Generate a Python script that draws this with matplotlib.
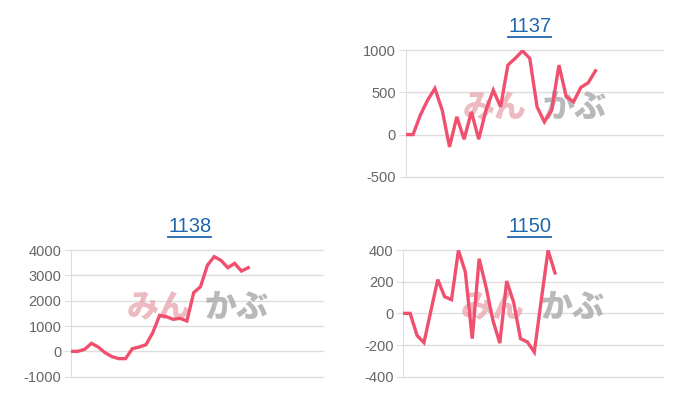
import matplotlib.pyplot as plt
from matplotlib.lines import Line2D

# values
titles = ["1137", "1138", "1150"]
v1137 = [0, 0, 230, 408, 546, 289, -146, 210, -55, 269, -55, 289, 526, 328,
         822, 902, 992, 902, 328, 150, 289, 822, 447, 388, 558, 613, 755]
v1138 = [0, 0, 79, 316, 170, -53, -209, -288, -288, 105, 170, 263, 737, 1421,
         1368, 1263, 1303, 1197, 2316, 2553, 3394, 3737, 3592, 3302, 3473, 3170, 3302]
v1150 = [0, 0, -140, -185, 15, 213, 105, 86, 398, 261, -160, 345, 166, -44,
         -188, 204, 71, -160, -181, -245, 80, 398, 255]
ticks1137 = [-500, 0, 500, 1000]
ticks1138 = [-1000, 0, 1000, 2000, 3000, 4000]
ticks1150 = [-400, -200, 0, 200, 400]

LINE = "#f0506e"
GRID = "#dedede"
LINK = "#1f66ad"

plt.rcParams['font.family'] = ['Liberation Sans', 'DejaVu Sans']
plt.rcParams['axes.unicode_minus'] = False
fig = plt.figure(figsize=(7, 4), dpi=100)

panels = [
    # title, values, ticks, axes rect, xmax, title pos
    (titles[0], v1137, ticks1137, [0.5796, 0.558, 0.368, 0.3167], 35.3, (0.757, 0.933)),
    (titles[1], v1138, ticks1138, [0.1014, 0.0583, 0.3604, 0.3167], 37.0, (0.271, 0.433)),
    (titles[2], v1150, ticks1150, [0.5761, 0.0583, 0.3714, 0.3167], 37.7, (0.757, 0.433)),
]

fig.canvas.draw()
renderer = fig.canvas.get_renderer()

for title, vals, ticks, rect, xmax, tpos in panels:
    ax = fig.add_axes(rect)
    ax.plot(range(len(vals)), vals, color=LINE, lw=2.4, zorder=3,
            solid_joinstyle='miter')
    ax.set_xlim(0, xmax)
    ax.set_ylim(ticks[0], ticks[-1])
    ax.set_yticks(ticks)
    ax.set_xticks([])
    ax.grid(axis='y', color=GRID, lw=1)
    for gl in ax.get_ygridlines():
        gl.set_clip_on(False)
    ax.tick_params(axis='y', length=5, color=GRID, labelcolor='#666666',
                   labelsize=10.5, pad=2)
    for s in ['top', 'right', 'bottom']:
        ax.spines[s].set_visible(False)
    ax.spines['left'].set_color(GRID)
    ax.set_axisbelow(True)

    # watermark logo
    ax.text(0.22, 0.55, "みん", transform=ax.transAxes, fontsize=23,
            family=['Noto Sans CJK JP'], weight='black', color='#e6a3ab',
            alpha=0.75, va='center', ha='left', zorder=1)
    ax.text(0.53, 0.55, "かぶ", transform=ax.transAxes, fontsize=23,
            family=['Noto Sans CJK JP'], weight='black', color='#a8a8a8',
            alpha=0.8, va='center', ha='left', zorder=1)

    # underlined link-style title
    t = fig.text(tpos[0], tpos[1], title, ha='center', va='center',
                 fontsize=14.5, color=LINK)
    bb = t.get_window_extent(renderer=renderer)
    inv = fig.transFigure.inverted()
    (x0, y0), (x1, _) = inv.transform([(bb.x0, bb.y0 - 1), (bb.x1, bb.y0)])
    fig.add_artist(Line2D([x0, x1], [y0, y0], color=LINK, lw=1.3,
                          transform=fig.transFigure))

fig.savefig("out.png", dpi=100)
